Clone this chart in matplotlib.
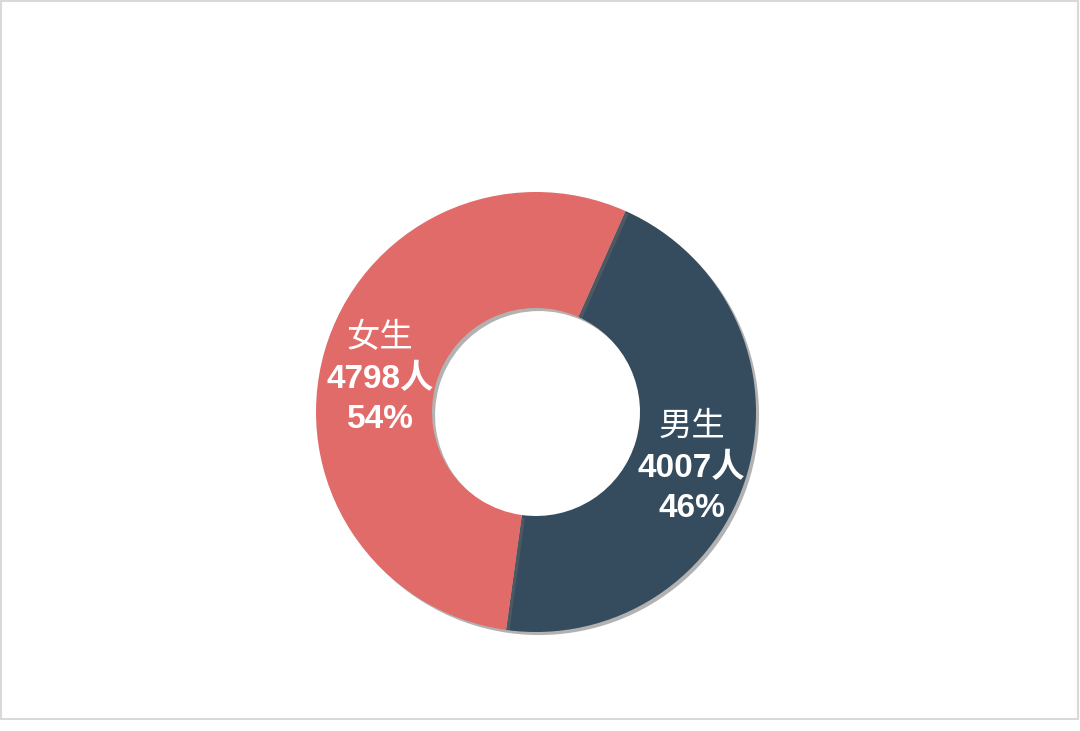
import numpy as np
import matplotlib.pyplot as plt
import matplotlib.patheffects as pe
from matplotlib.patches import Rectangle
from matplotlib.transforms import offset_copy

plt.rcParams['font.family'] = ['Liberation Sans', 'Noto Sans CJK SC']

# data
labels = ['男生', '女生']
counts = [4007, 4798]
colors = ['#354b5e', '#e16b69']

W, H = 1080, 731
fig = plt.figure(figsize=(W / 100, H / 100), dpi=100)
ax = fig.add_axes([0, 0, 1, 1])

cx, cy = 536, H - 412
R, r_in = 220, 104

shadow = [pe.SimplePatchShadow(offset=(2.2, -2.2), shadow_rgbFace='#666666', alpha=0.5),
          pe.Normal()]
wedges, _ = ax.pie(counts, colors=colors, startangle=66, counterclock=False,
                   center=(cx, cy), radius=R,
                   wedgeprops=dict(width=R - r_in, linewidth=0))
for w in wedges:
    w.set_path_effects(shadow)

ax.set_xlim(0, W)
ax.set_ylim(0, H)
ax.set_aspect('equal')
ax.axis('off')

total = sum(counts)
rl = (R + r_in) / 2
for w, lab, n in zip(wedges, labels, counts):
    ang = np.deg2rad((w.theta1 + w.theta2) / 2)
    x, y = cx + rl * np.cos(ang), cy + rl * np.sin(ang) - 12
    pct = round(n / total * 100)
    lines = [(lab, 'normal', 41), (f'{n}人', 'bold', 0), (f'{pct}%', 'bold', -40)]
    for txt, wt, dy in lines:
        tr = offset_copy(ax.transData, fig=fig, x=0, y=dy * 0.72, units='points')
        ax.text(x, y, txt, transform=tr, ha='center', va='center',
                color='white', fontsize=24, fontweight=wt)

fig.patches.append(Rectangle((1 / W, 12 / H), 1077 / W, 718 / H, transform=fig.transFigure,
                             fill=False, edgecolor='#d9d9d9', linewidth=1.5))

fig.savefig('out.png', dpi=100, facecolor='white')
